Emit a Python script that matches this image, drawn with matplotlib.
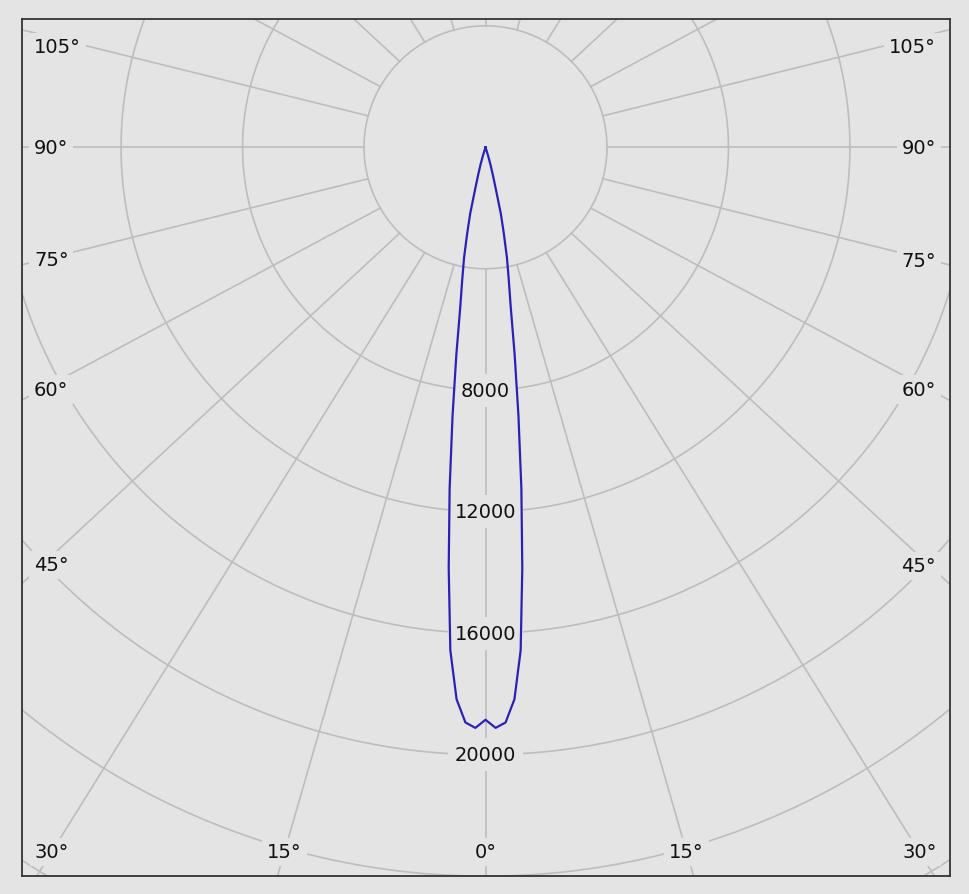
import numpy as np
import matplotlib.pyplot as plt

# beam data: angle from nadir (deg) and intensity (cd), one half, mirrored below
angles = [0, 1, 2, 3, 4, 5, 6, 7, 8, 9, 10, 11, 12, 13, 14, 15, 16, 17, 18, 19]
intensity = [18850, 19120, 18950, 18200, 16600, 13900, 11300, 8900, 6900, 5300,
             4400, 3700, 2900, 2250, 1350, 900, 600, 300, 100, 0]

ring_values = [4000, 8000, 12000, 16000, 20000, 24000, 28000, 32000]
ring_labels = ['8000', '12000', '16000', '20000']
side_angles = [105, 90, 75, 60, 45]
bottom_angles = [30, 15, 0]

bg = '#e4e4e4'
grid_c = '#bdbdbd'
curve_c = '#2a22b8'

# pixel size in cd (30.37 px per 1000 cd)
px = 1000 / 30.37
xmin, xmax = -463.5 * px, 464.5 * px
ymin, ymax = -728.7 * px, 128.3 * px

fig = plt.figure(figsize=(9.69, 8.95), dpi=100, facecolor=bg)
ax = fig.add_axes([22 / 969, 18 / 895, 928 / 969, 857 / 895])
ax.set_facecolor(bg)
ax.set_xlim(xmin, xmax)
ax.set_ylim(ymin, ymax)
ax.set_xticks([])
ax.set_yticks([])
for sp in ax.spines.values():
    sp.set_color('#333333')
    sp.set_linewidth(1.3)

# rings
t = np.linspace(0, 2 * np.pi, 721)
for r in ring_values:
    ax.plot(r * np.sin(t), -r * np.cos(t), color=grid_c, lw=1.2, zorder=1)

# spokes every 15 deg, from the inner ring outwards
r0, R, k = 4000, 40000, 0.935


def spoke(a):
    a = np.radians(a)
    return (r0 * np.sin(a), -r0 * np.cos(a)), (R * np.sin(a), -k * R * np.cos(a))


for a in range(0, 360, 15):
    (x0, y0), (x1, y1) = spoke(a)
    ax.plot([x0, x1], [y0, y1], color=grid_c, lw=1.2, zorder=1)

box = dict(boxstyle='square,pad=0.25', fc=bg, ec='none')
font = dict(fontsize=14, color='#111111', family='DejaVu Sans', zorder=2)

# angle labels on the sides
for a in side_angles:
    for sgn in (-1, 1):
        (x0, y0), (x1, y1) = spoke(sgn * a)
        xl = xmin + 20 * px if sgn < 0 else xmax - 20 * px
        s = (xl - x0) / (x1 - x0)
        y = min(y0 + s * (y1 - y0), ymax - 28 * px)
        if sgn < 0:
            ax.text(xmin + 12 * px, y, f'{a}°', ha='left', va='center', bbox=box, **font)
        else:
            ax.text(xmax - 14 * px, y, f'{a}°', ha='right', va='center', bbox=box, **font)

# angle labels at the bottom
yb = ymin + 24 * px
for a in bottom_angles:
    for sgn in ((-1, 1) if a else (1,)):
        (x0, y0), (x1, y1) = spoke(sgn * a)
        s = (yb - y0) / (y1 - y0)
        ax.text(x0 + s * (x1 - x0), yb, f'{a}°', ha='center', va='center', bbox=box, **font)

# intensity labels on the 0 deg line
for lab in ring_labels:
    ax.text(0, -float(lab), lab, ha='center', va='center',
            bbox=dict(boxstyle='square,pad=0.35', fc=bg, ec='none'), **font)

# beam curve
th = np.radians(np.concatenate([-np.array(angles[::-1]), angles[1:]]))
I = np.concatenate([intensity[::-1], intensity[1:]])
ax.plot(I * np.sin(th), -I * np.cos(th), color=curve_c, lw=1.6, zorder=3)

fig.savefig('out.png', dpi=100, facecolor=bg)
